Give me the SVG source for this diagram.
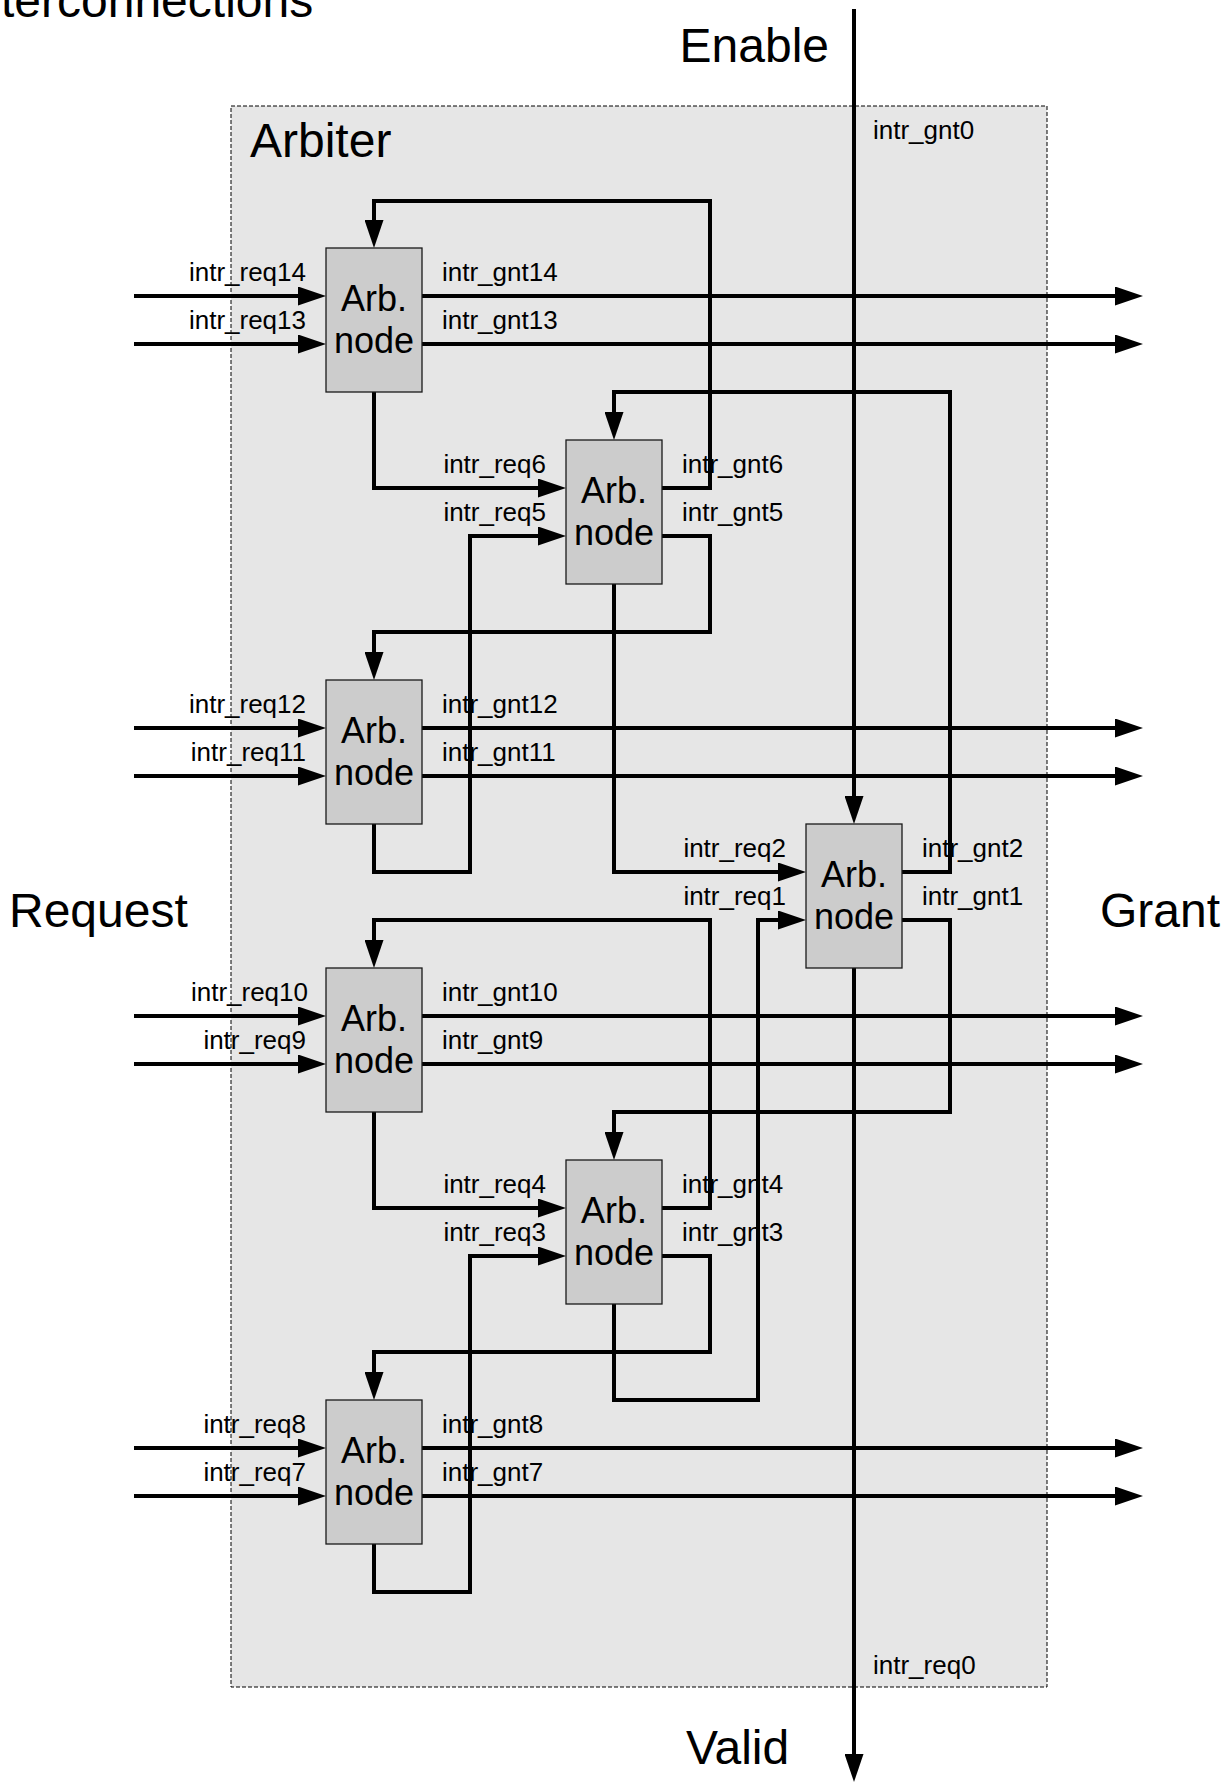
<svg xmlns="http://www.w3.org/2000/svg" width="1228" height="1783" viewBox="0 0 1228 1783">
<style>
text{font-family:"Liberation Sans",Arial,sans-serif;fill:#000}
.big{font-size:48px}
.lbl{font-size:26px}
.end{text-anchor:end}
.nt{font-size:36px;text-anchor:middle}
.node rect{fill:#cccccc;stroke:#1a1a1a;stroke-width:1.3}
.wire{fill:none;stroke:#000;stroke-width:4;stroke-linejoin:miter}
.arr{marker-end:url(#ah)}
</style>
<defs>
<marker id="ah" markerUnits="userSpaceOnUse" markerWidth="28" markerHeight="19" refX="14" refY="9.5" orient="auto" viewBox="0 0 28 19">
<path d="M0,0 L28,9.5 L0,19 z" fill="#000"/>
</marker>
</defs>
<rect id="arbiter-box" x="231" y="106" width="816" height="1581" fill="#e6e6e6" stroke="#000" stroke-width="1" stroke-dasharray="4,2"/>
<text class="big" x="1" y="17">terconnections</text>
<text class="big" x="250" y="157">Arbiter</text>
<text class="big end" x="829" y="62">Enable</text>
<text class="big" x="9" y="927">Request</text>
<text class="big" x="1100" y="927">Grant</text>
<text class="big" x="686" y="1764">Valid</text>
<text class="lbl" x="873" y="139">intr_gnt0</text>
<text class="lbl" x="873" y="1674">intr_req0</text>

<g id="connectors">
<!-- external inputs -->
<path class="wire arr" d="M134,296 H312"/>
<path class="wire arr" d="M134,344 H312"/>
<path class="wire arr" d="M134,728 H312"/>
<path class="wire arr" d="M134,776 H312"/>
<path class="wire arr" d="M134,1016 H312"/>
<path class="wire arr" d="M134,1064 H312"/>
<path class="wire arr" d="M134,1448 H312"/>
<path class="wire arr" d="M134,1496 H312"/>
<!-- external outputs -->
<path class="wire arr" d="M422,296 H1129"/>
<path class="wire arr" d="M422,344 H1129"/>
<path class="wire arr" d="M422,728 H1129"/>
<path class="wire arr" d="M422,776 H1129"/>
<path class="wire arr" d="M422,1016 H1129"/>
<path class="wire arr" d="M422,1064 H1129"/>
<path class="wire arr" d="M422,1448 H1129"/>
<path class="wire arr" d="M422,1496 H1129"/>
<!-- enable / valid -->
<path class="wire arr" d="M854,9 V810"/>
<path class="wire arr" d="M854,968 V1768"/>
<!-- requests upward -->
<path class="wire arr" d="M374,392 V488 H552"/>
<path class="wire arr" d="M374,824 V872 H470 V536 H552"/>
<path class="wire arr" d="M614,584 V872 H792"/>
<path class="wire arr" d="M374,1112 V1208 H552"/>
<path class="wire arr" d="M374,1544 V1592 H470 V1256 H552"/>
<path class="wire arr" d="M614,1304 V1400 H758 V920 H792"/>
<!-- grants downward -->
<path class="wire arr" d="M662,488 H710 V201 H374 V234"/>
<path class="wire arr" d="M662,536 H710 V632 H374 V666"/>
<path class="wire arr" d="M902,872 H950 V392 H614 V426"/>
<path class="wire arr" d="M902,920 H950 V1112 H614 V1146"/>
<path class="wire arr" d="M662,1208 H710 V920 H374 V954"/>
<path class="wire arr" d="M662,1256 H710 V1352 H374 V1386"/>
</g>

<g id="node-a" class="node">
<rect x="326" y="248" width="96" height="144"/>
<text class="nt" x="374" y="311">Arb.</text><text class="nt" x="374" y="353">node</text>
<text class="lbl end" x="306" y="281">intr_req14</text>
<text class="lbl end" x="306" y="329">intr_req13</text>
<text class="lbl" x="442" y="281">intr_gnt14</text>
<text class="lbl" x="442" y="329">intr_gnt13</text>
</g>
<g id="node-b" class="node">
<rect x="566" y="440" width="96" height="144"/>
<text class="nt" x="614" y="503">Arb.</text><text class="nt" x="614" y="545">node</text>
<text class="lbl end" x="546" y="473">intr_req6</text>
<text class="lbl end" x="546" y="521">intr_req5</text>
<text class="lbl" x="682" y="473">intr_gnt6</text>
<text class="lbl" x="682" y="521">intr_gnt5</text>
</g>
<g id="node-c" class="node">
<rect x="326" y="680" width="96" height="144"/>
<text class="nt" x="374" y="743">Arb.</text><text class="nt" x="374" y="785">node</text>
<text class="lbl end" x="306" y="713">intr_req12</text>
<text class="lbl end" x="306" y="761">intr_req11</text>
<text class="lbl" x="442" y="713">intr_gnt12</text>
<text class="lbl" x="442" y="761">intr_gnt11</text>
</g>
<g id="node-d" class="node">
<rect x="806" y="824" width="96" height="144"/>
<text class="nt" x="854" y="887">Arb.</text><text class="nt" x="854" y="929">node</text>
<text class="lbl end" x="786" y="857">intr_req2</text>
<text class="lbl end" x="786" y="905">intr_req1</text>
<text class="lbl" x="922" y="857">intr_gnt2</text>
<text class="lbl" x="922" y="905">intr_gnt1</text>
</g>
<g id="node-e" class="node">
<rect x="326" y="968" width="96" height="144"/>
<text class="nt" x="374" y="1031">Arb.</text><text class="nt" x="374" y="1073">node</text>
<text class="lbl end" x="308" y="1001">intr_req10</text>
<text class="lbl end" x="306" y="1049">intr_req9</text>
<text class="lbl" x="442" y="1001">intr_gnt10</text>
<text class="lbl" x="442" y="1049">intr_gnt9</text>
</g>
<g id="node-f" class="node">
<rect x="566" y="1160" width="96" height="144"/>
<text class="nt" x="614" y="1223">Arb.</text><text class="nt" x="614" y="1265">node</text>
<text class="lbl end" x="546" y="1193">intr_req4</text>
<text class="lbl end" x="546" y="1241">intr_req3</text>
<text class="lbl" x="682" y="1193">intr_gnt4</text>
<text class="lbl" x="682" y="1241">intr_gnt3</text>
</g>
<g id="node-g" class="node">
<rect x="326" y="1400" width="96" height="144"/>
<text class="nt" x="374" y="1463">Arb.</text><text class="nt" x="374" y="1505">node</text>
<text class="lbl end" x="306" y="1433">intr_req8</text>
<text class="lbl end" x="306" y="1481">intr_req7</text>
<text class="lbl" x="442" y="1433">intr_gnt8</text>
<text class="lbl" x="442" y="1481">intr_gnt7</text>
</g>
</svg>
